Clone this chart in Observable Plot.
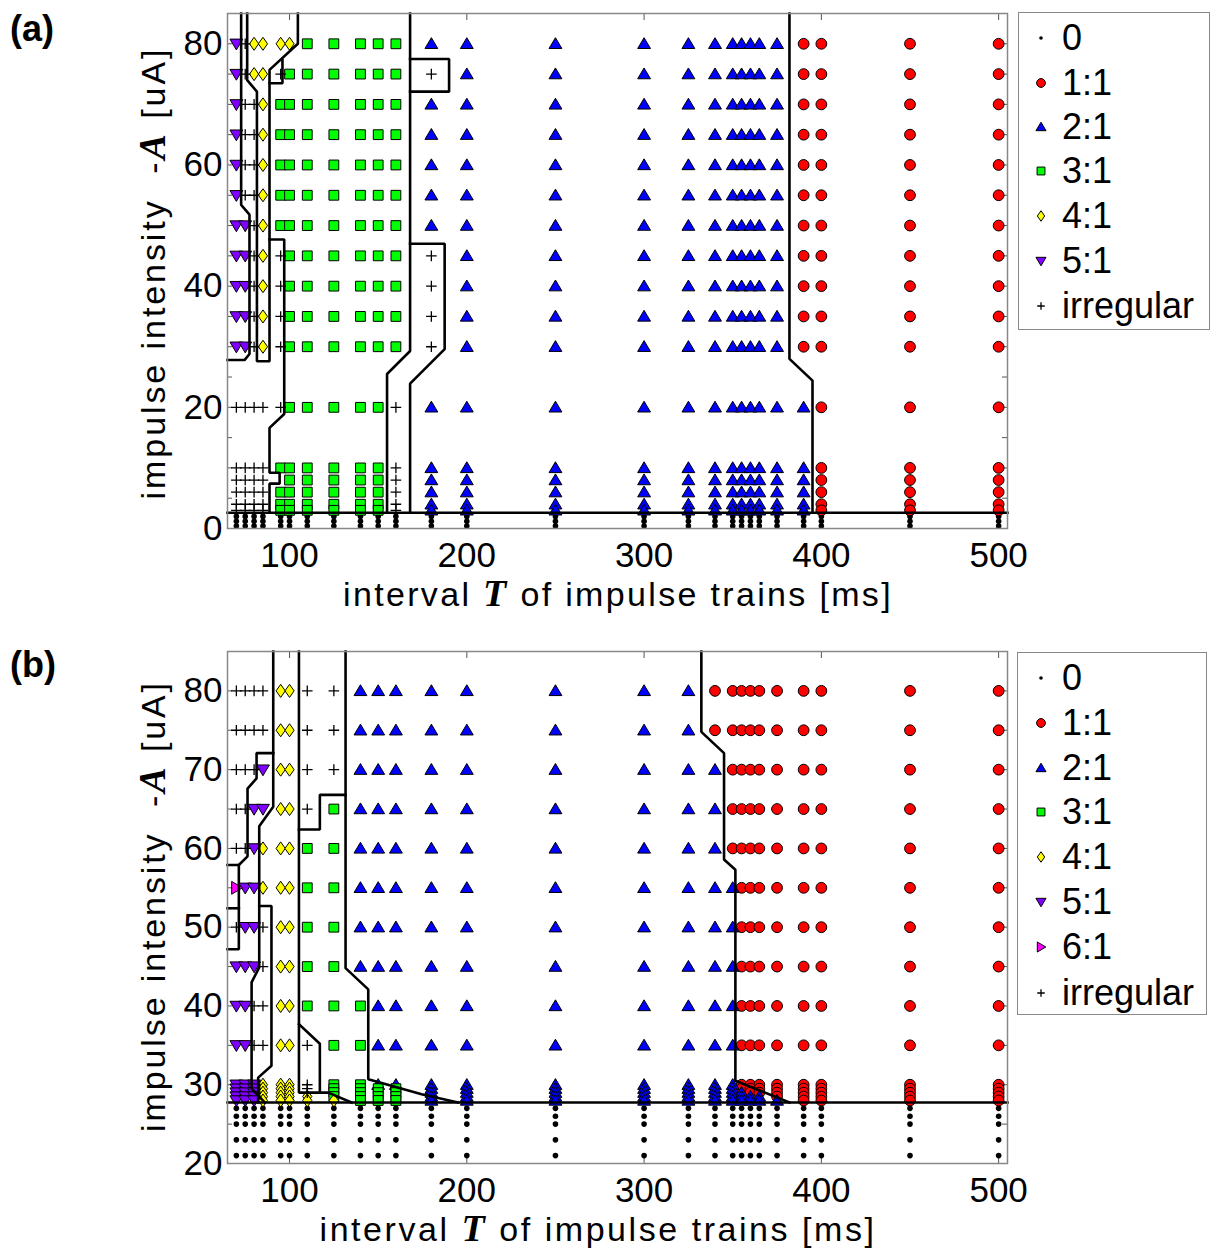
<!DOCTYPE html>
<html>
<head>
<meta charset="utf-8">
<script src="https://cdn.jsdelivr.net/npm/d3@7"></script>
<script src="https://cdn.jsdelivr.net/npm/@observablehq/plot@0.6"></script>
<style>
html,body{margin:0;padding:0;background:#fff;}
body{width:1223px;font-family:"Liberation Sans",Arial,Helvetica,sans-serif;color:#000;}
.panel{position:relative;width:1223px;}
.panel svg{display:block;}
.ov{position:absolute;white-space:nowrap;line-height:1;}
.plabel{font-weight:bold;font-size:36px;}
.atitle{font-size:34px;}
.math{font-family:"Liberation Serif","DejaVu Serif",serif;font-style:italic;font-weight:bold;font-size:38px;line-height:0;display:inline-block;height:26px;vertical-align:baseline;}
.legend{position:absolute;border:1px solid #888;background:#fff;box-sizing:border-box;}
.litem{position:absolute;font-size:36px;line-height:36px;white-space:nowrap;}
.lmark{position:absolute;width:20px;height:20px;overflow:visible;}
</style>
</head>
<body>
<div id="pa" class="panel"></div>
<div id="pb" class="panel"></div>
<script>
// ---------- data ----------
const intervals = [70,75,80,85,95,100,110,125,140,150,160,180,200,250,300,325,340,350,355,360,365,375,390,400,450,500];

// panel (a): rows of response codes, one character per interval
// 0 = no response, 1..6 = n:1 locking, + = irregular, . = not shown
const levelsA = [80,75,70,65,60,55,50,45,40,35,30,20,10,8,6,4,3,2,1.2,0.4];
const codesA = [
  "5+4444 33333 22222222222 1111",
  "5+44+3 33333 +2222222222 1111",
  "5++433 33333 22222222222 1111",
  "5++433 33333 22222222222 1111",
  "5++433 33333 22222222222 1111",
  "5++433 33333 22222222222 1111",
  "55+433 33333 22222222222 1111",
  "55+4+3 33333 +2222222222 1111",
  "55+4+3 33333 +2222222222 1111",
  "55+4+3 33333 +2222222222 1111",
  "55+4+3 33333 +2222222222 1111",
  "+++++3 3333+ 22222222222 2111",
  "++++33 3333+ 22222222222 2111",
  "++++.3 3333+ 22222222222 2111",
  "++++33 3333+ 22222222222 2111",
  "++++33 3333+ 22222222222 2111",
  "++++33 3333+ 22222222222 2111",
  "000000 00000 00000000000 0000",
  "000000 00000 00000000000 0000",
  "000000 00000 00000000000 0000"
];

// panel (b)
const levelsB = [80,75,70,65,60,55,50,45,40,35,30,29.5,29,28.5,28,27,26,25,23,21];
const codesB = [
  "++++44 ++ 222 22222 111 1111111",
  "++++44 ++ 222 22222 111 1111111",
  "+++544 ++ 222 22222 211 1111111",
  "++5544 +3 222 22222 211 1111111",
  "++5444 33 222 22222 211 1111111",
  "655444 33 222 22222 221 1111111",
  "+55+44 33 222 22222 221 1111111",
  "555+44 33 222 22222 221 1111111",
  "55++44 33 322 22222 221 1111111",
  "55++44 +3 322 22222 221 1111111",
  "555444 +3 322 22222 221 1111111",
  "555444 +3 333 22222 221 1111111",
  "555444 +3 333 22222 222 1111111",
  "555444 43 333 22222 222 2211111",
  "555444 44 333 22222 222 2221111",
  "000000 00 000 00000 000 0000000",
  "000000 00 000 00000 000 0000000",
  "000000 00 000 00000 000 0000000",
  "000000 00 000 00000 000 0000000",
  "000000 00 000 00000 000 0000000"
];

const xTicks = [100,200,300,400,500];
const yTicksA = [0,20,40,60,80];
const yTicksB = [20,30,40,50,60,70,80];

// region boundaries, as [T, A] vertices
const boundariesA = [
  [[65,2.6],[505,2.6]],
  [[72.7,85],[72.7,53.4],[77.4,51.8],[77.4,28.8],[74.6,27.8],[65,27.8]],
  [[76.1,85],[76.1,74],[81.6,72.1],[81.6,27.6],[88.7,27.6],[88.7,75.7],[104.7,80],[104.7,85]],
  [[96,77.3],[96,73.5],[88.7,73.5]],
  [[88.7,47.7],[97,47.7],[97,18.9],[88.7,16.6],[88.7,9.2],[94.4,9.2],[94.4,7.4],[88.7,7.4],[88.7,2.6]],
  [[168,85],[168,29.3],[155,25.5],[155,2.6]],
  [[168,77.5],[190,77.5],[190,72.1],[168,72.1]],
  [[168,47],[187.5,47],[187.5,29.6],[168,23.9],[168,2.6]],
  [[382,85],[382,28],[395,24.4],[395,2.6]]
];
const boundariesB = [
  [[65,27.75],[505,27.75]],
  [[65,57.9],[71.4,57.9],[76.3,59.0],[76.3,67.6],[81.4,68.9],[81.4,72.1],[90.8,72.1]],
  [[71.4,57.9],[71.4,47.2],[65,47.2]],
  [[65,52.4],[71.4,52.4]],
  [[90.8,85],[90.8,65.3],[82.9,62.8],[82.9,44.9],[78.6,43],[78.6,29.5],[86,27.75]],
  [[82.9,52.7],[89.8,52.7],[89.8,32.4],[82.3,30.9],[82.3,27.75]],
  [[105.3,85],[105.3,29],[121.8,29],[135,27.75]],
  [[105.3,62.4],[117.1,62.4],[117.1,66.8],[131.6,66.8]],
  [[105.3,37.7],[117.1,35.2],[117.1,29]],
  [[131.6,85],[131.6,44.8],[144.4,42.1],[144.4,30.7],[174.5,28.8],[195,27.75]],
  [[332.3,85],[332.3,74.8],[345.1,72.1],[345.1,58.6],[351.5,57.3],[351.5,30.5],[382,27.75]]
];

const legendA = ["0","1","2","3","4","5","+"];
const legendB = ["0","1","2","3","4","5","6","+"];
const legendLabels = {"0":"0","1":"1:1","2":"2:1","3":"3:1","4":"4:1","5":"5:1","6":"6:1","+":"irregular"};

// ---------- symbols & styles ----------
function sc(size){ return Math.sqrt(size/Math.PI)/5; }
const SYM = {
  circle:{draw(c,size){const r=Math.sqrt(size/Math.PI); c.moveTo(r,0); c.arc(0,0,r,0,2*Math.PI);}},
  triUp:{draw(c,size){const s=sc(size); c.moveTo(0,-6*s); c.lineTo(6.3*s,4.6*s); c.lineTo(-6.3*s,4.6*s); c.closePath();}},
  triDown:{draw(c,size){const s=sc(size); c.moveTo(0,6*s); c.lineTo(6.3*s,-4.6*s); c.lineTo(-6.3*s,-4.6*s); c.closePath();}},
  triRight:{draw(c,size){const s=sc(size); c.moveTo(6*s,0); c.lineTo(-4.6*s,-6.3*s); c.lineTo(-4.6*s,6.3*s); c.closePath();}},
  square:{draw(c,size){const s=sc(size); c.rect(-4.8*s,-4.8*s,9.6*s,9.6*s);}},
  diamond:{draw(c,size){const s=sc(size); c.moveTo(0,-6.4*s); c.lineTo(4.5*s,0); c.lineTo(0,6.4*s); c.lineTo(-4.5*s,0); c.closePath();}},
  plus:{draw(c,size){const s=sc(size); c.moveTo(-5.2*s,0); c.lineTo(5.2*s,0); c.moveTo(0,-5.2*s); c.lineTo(0,5.2*s);}}
};
const STYLE = {
  "0":{symbol:SYM.circle,  fill:"#000",    stroke:"none", r:2.8, lr:1.8, sw:0},
  "1":{symbol:SYM.circle,  fill:"#ff0000", stroke:"#000", r:5.4, lr:4.4, sw:1},
  "2":{symbol:SYM.triUp,   fill:"#0000ff", stroke:"#000", r:5.1, lr:4,   sw:1},
  "3":{symbol:SYM.square,  fill:"#00ff00", stroke:"#000", r:5.1, lr:4.1, sw:1},
  "4":{symbol:SYM.diamond, fill:"#ffff00", stroke:"#000", r:5.1, lr:4.1, sw:1},
  "5":{symbol:SYM.triDown, fill:"#8000ff", stroke:"#000", r:5.1, lr:4,   sw:1},
  "6":{symbol:SYM.triRight,fill:"#ff00ff", stroke:"#000", r:5.1, lr:4,   sw:1},
  "+":{symbol:SYM.plus,    fill:"none",    stroke:"#000", r:5.1, lr:3.6, sw:1.3}
};

function toRecords(levels, codes){
  const out=[];
  levels.forEach((A,i)=>{
    const row=codes[i].replace(/\s/g,"");
    intervals.forEach((T,j)=>{ const c=row[j]; if(c && c!==".") out.push({T,A,c}); });
  });
  return out;
}
function toSegments(b){
  const out=[];
  b.forEach((pl,k)=>pl.forEach(([T,A])=>out.push({T,A,id:k})));
  return out;
}

function makePanel(cfg){
  const pts = toRecords(cfg.levels, cfg.codes);
  const segs = toSegments(cfg.bounds);
  const ml=227, mr=216;
  const plotW = 1223-ml-mr, plotH = cfg.height-cfg.mt-cfg.mb;
  const minor = d3.range(cfg.y0, 85, 5);
  const dotMarks = Object.keys(STYLE).map(code=>{
    const st=STYLE[code];
    return Plot.dot(pts.filter(d=>d.c===code), {x:"T", y:"A", symbol:st.symbol, r:st.r, fill:st.fill, stroke:st.stroke, strokeWidth:st.sw});
  });
  return Plot.plot({
    width:1223, height:cfg.height,
    marginLeft:ml, marginRight:mr, marginTop:cfg.mt, marginBottom:cfg.mb,
    x:{domain:[65,505]},
    y:{domain:[cfg.y0,85]},
    style:{fontFamily:'"Liberation Sans",Arial,sans-serif', fontSize:"35px", color:"#000", background:"transparent", overflow:"visible"},
    marks:[
      Plot.ruleX(xTicks,{x:d=>d, insetTop:plotH-7, stroke:"#555"}),
      Plot.ruleX(xTicks,{x:d=>d, insetBottom:plotH-7, stroke:"#555"}),
      Plot.ruleY(minor,{y:d=>d, insetRight:plotW-5, stroke:"#555"}),
      Plot.ruleY(minor,{y:d=>d, insetLeft:plotW-5, stroke:"#555"}),
      ...dotMarks,
      Plot.line(segs,{x:"T", y:"A", z:"id", stroke:"#000", strokeWidth:2.6, strokeLinejoin:"miter", strokeLinecap:"square"}),
      Plot.frame({stroke:"#888", strokeWidth:1.5}),
      Plot.axisX({ticks:xTicks, tickSize:0, tickPadding:14, fontSize:35, label:null, tickFormat:d=>String(d)}),
      Plot.axisY({ticks:cfg.yTicks, tickSize:0, tickPadding:5, fontSize:35, label:null, tickFormat:d=>String(d)})
    ]
  });
}

function addDiv(parent, cls, html, css){
  const el=document.createElement("div");
  el.className=cls; el.innerHTML=html;
  Object.assign(el.style, css);
  parent.appendChild(el);
  return el;
}
function fitWidth(el, target){
  const w=el.offsetWidth, n=el.textContent.length;
  el.style.letterSpacing=((target-w)/n)+"px";
}
function symPath(code, r){
  const p=d3.path(); STYLE[code].symbol.draw(p, Math.PI*r*r); return p.toString();
}
function addLegend(parent, box, codes, centers){
  addDiv(parent,"legend","",{left:box[0]+"px", top:box[1]+"px", width:box[2]+"px", height:box[3]+"px"});
  codes.forEach((code,i)=>{
    const st=STYLE[code], cy=centers[i];
    const svg=`<svg class="lmark" viewBox="-10 -10 20 20" style="left:${1041-10}px;top:${cy-10}px"><path d="${symPath(code,st.lr)}" fill="${st.fill}" stroke="${st.stroke}" stroke-width="${st.sw}"/></svg>`;
    parent.insertAdjacentHTML("beforeend", svg);
    addDiv(parent,"litem",legendLabels[code],{left:"1062px", top:(cy-18)+"px"});
  });
}

// ---------- panel (a) ----------
const pa=document.getElementById("pa");
pa.style.height="630px";
pa.appendChild(makePanel({levels:levelsA, codes:codesA, bounds:boundariesA, y0:0, yTicks:yTicksA, height:630, mt:13, mb:102}));
addDiv(pa,"ov plabel","(a)",{left:"10px", top:"11px"});
const xa=addDiv(pa,"ov atitle",'interval <span class="math">T</span> of impulse trains [ms]',{left:"618px", top:"577px"});
fitWidth(xa,550); xa.style.transform="translateX(-50%)";
const ya=addDiv(pa,"ov atitle",'impulse intensity&nbsp;&nbsp;-<span class="math">A</span> [uA]',{left:"157px", top:"273px"});
fitWidth(ya,453); ya.style.transform="translate(-50%,-50%) rotate(-90deg)";
addLegend(pa,[1018,12,192,318],legendA,[38,82.5,127,171,216,261,306]);

// ---------- panel (b) ----------
const pb=document.getElementById("pb");
pb.style.height="623px";
pb.appendChild(makePanel({levels:levelsB, codes:codesB, bounds:boundariesB, y0:20, yTicks:yTicksB, height:623, mt:21, mb:90}));
addDiv(pb,"ov plabel","(b)",{left:"10px", top:"17px"});
const xb=addDiv(pb,"ov atitle",'interval <span class="math">T</span> of impulse trains [ms]',{left:"598px", top:"582px"});
fitWidth(xb,557); xb.style.transform="translateX(-50%)";
const yb=addDiv(pb,"ov atitle",'impulse intensity&nbsp;&nbsp;-<span class="math">A</span> [uA]',{left:"157px", top:"276px"});
fitWidth(yb,452); yb.style.transform="translate(-50%,-50%) rotate(-90deg)";
addLegend(pb,[1017,22,190,363],legendB,[48,93,138,182,227,272,317,363]);
</script>
</body>
</html>
